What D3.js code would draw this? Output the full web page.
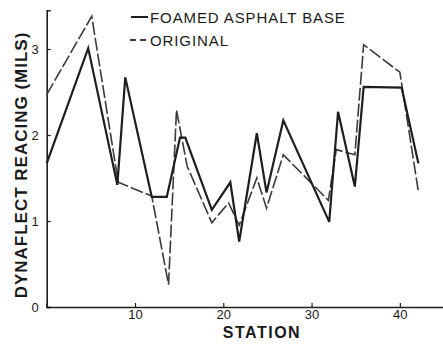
<!DOCTYPE html>
<html>
<head>
<meta charset="utf-8">
<script src="https://cdn.jsdelivr.net/npm/d3@7/dist/d3.min.js"></script>
<style>
  html, body { margin: 0; padding: 0; background: #fff; }
  svg { display: block; }
  text { font-family: "Liberation Sans", Arial, sans-serif; fill: #1a1a1a; }
</style>
</head>
<body>
<svg id="chart" width="443" height="345"></svg>
<script>
// ---- data ----
const foamedStations = [0, 4.7, 8.0, 8.9, 11.9, 13.6, 15.1, 15.7, 18.7, 20.8, 21.8, 23.8, 24.9, 26.8, 32.0, 33.0, 34.9, 35.9, 40.2, 42.1];
const foamedValues   = [1.67, 3.01, 1.42, 2.67, 1.28, 1.28, 1.97, 1.97, 1.13, 1.45, 0.76, 2.02, 1.33, 2.17, 0.99, 2.27, 1.40, 2.56, 2.55, 1.67];
const originalStations = [0, 5.1, 8.1, 11.9, 13.8, 14.7, 15.9, 18.7, 20.6, 21.8, 23.8, 24.9, 26.8, 31.9, 32.8, 34.9, 35.9, 40.0, 42.1];
const originalValues   = [2.47, 3.38, 1.45, 1.29, 0.26, 2.29, 1.64, 0.98, 1.21, 0.95, 1.50, 1.15, 1.77, 1.24, 1.83, 1.77, 3.05, 2.73, 1.34];
const xTicks = [10, 20, 30, 40];
const yTicks = [0, 1, 2, 3];
const seriesNames = ["FOAMED ASPHALT BASE", "ORIGINAL"];
const xTitle = "STATION";
const yTitle = "DYNAFLECT REACING (MILS)";

const svg = d3.select("#chart");
svg.append("rect").attr("width", 443).attr("height", 345).attr("fill", "#fff");

const x = d3.scaleLinear().domain([0, 45]).range([46.7, 444]);
const y = d3.scaleLinear().domain([0, 3.45]).range([307, 10.3]);

const ink = "#1e1e1e";

// axes
const xAxis = svg.append("g").attr("transform", "translate(0,307)")
  .call(d3.axisBottom(x).tickValues(xTicks).tickSize(-4).tickPadding(8).tickFormat(d3.format("d")));
const yAxis = svg.append("g").attr("transform", "translate(46.7,0)")
  .call(d3.axisLeft(y).tickValues(yTicks).tickSize(-4).tickPadding(8).tickFormat(d3.format("d")));
[xAxis, yAxis].forEach(g => {
  g.select(".domain").attr("stroke", ink).attr("stroke-width", 1.6);
  g.selectAll(".tick line").attr("stroke", ink).attr("stroke-width", 1.2);
  g.selectAll(".tick text").attr("fill", ink).style("font-size", "13px")
    .style("font-family", "'Liberation Sans', Arial, sans-serif");
});
xAxis.selectAll(".tick text").attr("dy", "0.3em");

// lines
const line = d3.line().x(d => x(d[0])).y(d => y(d[1]));
const foamed = foamedStations.map((s, i) => [s, foamedValues[i]]);
const original = originalStations.map((s, i) => [s, originalValues[i]]);

svg.append("path").datum(original).attr("d", line)
  .attr("fill", "none").attr("stroke", "#3a3a3a").attr("stroke-width", 1.6)
  .attr("stroke-dasharray", "13,3").attr("stroke-linejoin", "miter");
svg.append("path").datum(foamed).attr("d", line)
  .attr("fill", "none").attr("stroke", ink).attr("stroke-width", 2.2)
  .attr("stroke-linejoin", "miter");

// legend
const lg = svg.append("g");
lg.append("line").attr("x1", 131).attr("x2", 148).attr("y1", 17).attr("y2", 17)
  .attr("stroke", ink).attr("stroke-width", 2);
lg.append("line").attr("x1", 130).attr("x2", 148).attr("y1", 40).attr("y2", 40)
  .attr("stroke", "#3a3a3a").attr("stroke-width", 1.8).attr("stroke-dasharray", "6,4");
lg.append("text").attr("x", 150).attr("y", 23).text(seriesNames[0])
  .style("font-size", "15px").style("letter-spacing", "0.9px");
lg.append("text").attr("x", 150).attr("y", 46).text(seriesNames[1])
  .style("font-size", "15px").style("letter-spacing", "0.9px");

// titles
svg.append("text").attr("x", 262).attr("y", 338).attr("text-anchor", "middle")
  .style("font-size", "16px").style("font-weight", "bold").style("letter-spacing", "1.5px")
  .text(xTitle);
svg.append("text").attr("transform", "translate(27,165) rotate(-90)").attr("text-anchor", "middle")
  .style("font-size", "17px").style("font-weight", "bold").style("letter-spacing", "1px")
  .text(yTitle);
</script>
</body>
</html>
